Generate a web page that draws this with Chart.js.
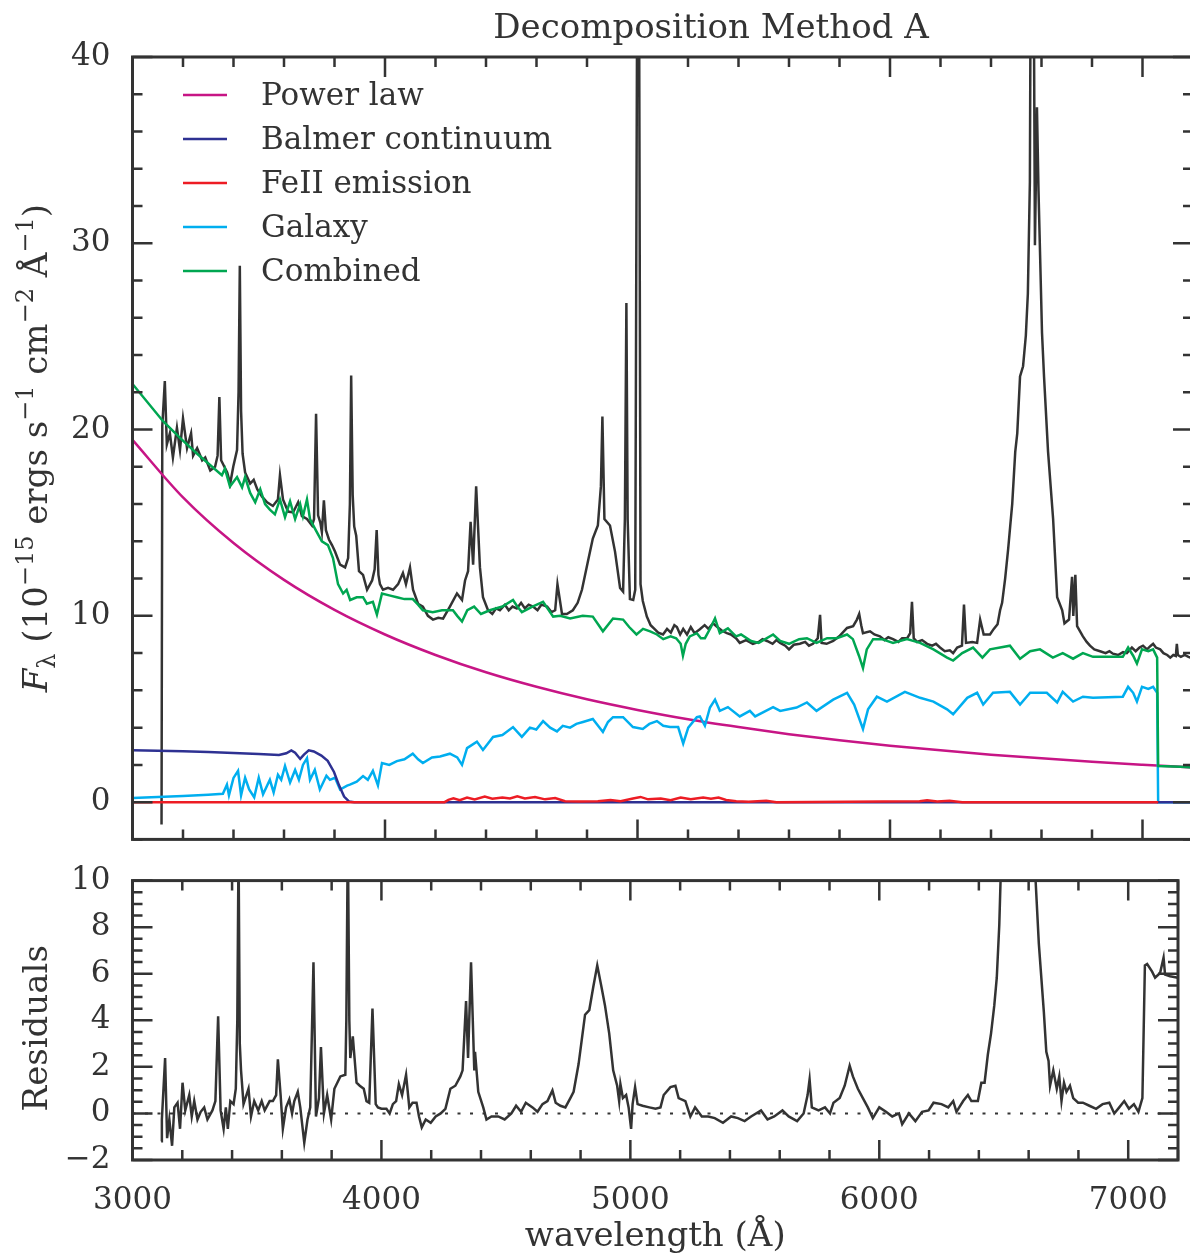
<!DOCTYPE html>
<html>
<head>
<meta charset="utf-8">
<script src="https://cdn.jsdelivr.net/npm/chart.js@4.4.1/dist/chart.umd.min.js"></script>
<style>
  html, body { margin: 0; padding: 0; background: #fff; }
  #wrap { position: relative; width: 1190px; height: 1258px; overflow: hidden; background: #fff; }
  #spec { position: absolute; left: 0; top: 0; }
  #resid { position: absolute; left: 0; top: 840px; }
</style>
</head>
<body>
<div id="wrap">
  <canvas id="spec" width="1200" height="880"></canvas>
  <canvas id="resid" width="1200" height="418"></canvas>
</div>
<script>
// ---- Spectrum and decomposition components: [wavelength (Å), flux (1e-15 erg/s/cm2/Å)] ----
const observed = [
  [3115,-1.2],[3118,20.2],[3128,22.6],[3136,19.2],[3148,19.8],[3160,18.5],[3176,20.1],[3188,18.9],
  [3200,20.6],[3216,19.0],[3232,19.8],[3240,18.6],[3256,19.0],[3276,18.35],[3288,18.5],[3308,17.8],
  [3327,18.0],[3337,18.6],[3344,21.75],[3351,18.35],[3375,17.7],[3387,17.1],[3399,18.0],[3414,18.9],
  [3420,22.0],[3425,28.8],[3430,21.0],[3436,18.7],[3446,17.7],[3466,17.1],[3480,17.3],[3494,16.8],
  [3513,16.4],[3533,16.1],[3556,15.9],[3576,16.25],[3584,17.55],[3596,16.25],[3616,15.6],[3636,15.55],
  [3656,16.1],[3671,15.35],[3691,15.2],[3711,14.85],[3719,15.2],[3727,20.85],[3735,15.4],[3744,15.0],
  [3750,14.5],[3758,16.2],[3766,14.6],[3778,14.1],[3790,13.8],[3802,13.45],[3822,12.75],[3842,12.6],
  [3854,13.1],[3861,16.0],[3866,22.9],[3872,16.5],[3878,14.8],[3886,14.3],[3897,12.4],[3913,12.2],
  [3929,11.4],[3949,11.9],[3959,12.5],[3967,14.6],[3974,12.2],[3980,11.7],[3992,11.4],[4012,11.5],
  [4032,11.4],[4052,11.7],[4071,12.3],[4083,11.7],[4099,12.6],[4111,11.4],[4131,10.65],[4150,10.5],
  [4170,10.0],[4190,9.8],[4211,9.9],[4230,9.85],[4257,10.5],[4285,11.2],[4305,10.85],[4317,11.9],
  [4329,12.4],[4339,15.05],[4349,12.75],[4361,16.95],[4376,12.6],[4388,11.0],[4408,10.3],[4425,10.1],
  [4440,10.4],[4455,10.3],[4475,10.6],[4490,10.3],[4505,10.5],[4522,10.4],[4539,10.7],[4554,10.4],
  [4569,10.6],[4586,10.5],[4604,10.3],[4619,10.6],[4642,10.5],[4659,10.2],[4674,10.3],[4683,11.7],
  [4701,10.1],[4720,10.1],[4744,10.3],[4763,10.7],[4780,11.4],[4804,12.95],[4823,14.15],[4843,14.85],
  [4855,16.95],[4861,20.7],[4869,15.2],[4891,14.85],[4911,13.45],[4931,11.5],[4943,11.3],[4950,15.2],
  [4956,26.8],[4961,15.2],[4970,10.9],[4983,10.85],[4991,11.4],[4999,45],[5006,45],[5012,11.7],
  [5021,10.8],[5037,9.96],[5052,9.5],[5067,9.3],[5082,9.1],[5101,9.0],[5117,9.3],[5132,9.1],
  [5146,9.5],[5156,9.4],[5169,9.0],[5181,9.3],[5196,9.0],[5211,9.4],[5226,9.07],[5247,9.28],
  [5266,9.5],[5281,9.3],[5299,9.6],[5316,9.4],[5335,9.2],[5354,9.07],[5370,9.0],[5390,8.8],
  [5405,8.55],[5430,8.7],[5457,8.5],[5480,8.6],[5495,8.75],[5513,8.65],[5535,8.5],[5550,8.7],
  [5565,8.55],[5585,8.4],[5600,8.2],[5619,8.45],[5643,8.5],[5664,8.6],[5679,8.4],[5695,8.5],
  [5714,8.8],[5723,10.05],[5729,8.55],[5749,8.5],[5775,8.65],[5799,8.9],[5830,9.35],[5854,9.45],
  [5869,9.8],[5878,10.1],[5886,9.5],[5893,9.07],[5921,9.17],[5938,9.0],[5960,8.9],[5978,8.7],
  [5993,8.85],[6012,8.75],[6033,8.6],[6048,8.8],[6068,8.8],[6080,9.07],[6087,10.75],[6094,8.8],
  [6107,8.6],[6127,8.7],[6147,8.5],[6167,8.4],[6182,8.5],[6198,8.3],[6217,8.1],[6237,8.15],
  [6250,8.0],[6266,8.3],[6285,8.4],[6293,10.6],[6301,8.55],[6326,8.6],[6345,8.55],[6357,9.8],
  [6371,9.0],[6396,9.0],[6411,9.3],[6426,9.55],[6436,10.3],[6444,10.7],[6456,12.0],[6468,13.6],
  [6476,14.8],[6484,16.0],[6496,18.8],[6504,19.8],[6515,22.85],[6527,23.4],[6538,25.05],[6546,27.3],
  [6554,33.3],[6558,48],[6568,48],[6574,29.9],[6582,37.3],[6588,32.9],[6602,25.2],[6610,22.85],
  [6626,18.8],[6646,15.2],[6662,11.0],[6682,10.3],[6691,9.6],[6709,9.8],[6721,12.1],[6726,10.0],
  [6734,12.2],[6741,9.45],[6764,8.9],[6779,8.6],[6792,8.4],[6809,8.2],[6832,8.1],[6854,8.0],
  [6869,8.1],[6883,7.97],[6903,7.9],[6923,8.05],[6938,8.0],[6958,8.3],[6973,8.1],[6988,8.3],
  [7002,8.4],[7018,8.2],[7033,8.4],[7042,8.5],[7053,8.3],[7070,8.2],[7083,8.0],[7098,7.9],
  [7110,7.76],[7122,7.9],[7132,7.85],[7136,8.5],[7140,7.9],[7152,7.8],[7167,7.9],[7182,7.8],[7200,7.7]
];

const powerLaw = [
  [3000,19.45],[3200,16.36],[3400,13.91],[3600,11.93],[3800,10.32],[4000,9.00],[4200,7.90],
  [4400,6.97],[4600,6.19],[4800,5.52],[5000,4.95],[5200,4.45],[5400,4.03],[5600,3.65],
  [5800,3.32],[6000,3.03],[6200,2.78],[6400,2.55],[6600,2.35],[6800,2.17],[7000,2.01],[7200,1.86]
];

const balmer = [
  [3000,2.78],[3100,2.76],[3200,2.73],[3300,2.69],[3400,2.64],[3500,2.58],[3580,2.53],[3609,2.62],
  [3629,2.78],[3644,2.65],[3664,2.32],[3679,2.55],[3698,2.78],[3718,2.72],[3748,2.5],[3773,2.22],
  [3798,1.62],[3818,0.9],[3838,0.3],[3858,0.03],[3878,0],[7200,0]
];

const feII = [
  [3000,0],[4236,0],[4251,0.12],[4271,0.2],[4296,0.1],[4325,0.25],[4355,0.15],[4395,0.3],
  [4425,0.18],[4465,0.25],[4495,0.2],[4524,0.32],[4554,0.2],[4594,0.28],[4634,0.15],[4674,0.22],
  [4713,0.05],[4773,0.03],[4843,0.05],[4893,0.12],[4933,0.05],[4982,0.2],[5012,0.28],[5042,0.15],
  [5092,0.2],[5131,0.1],[5171,0.25],[5211,0.15],[5260,0.25],[5291,0.18],[5321,0.25],[5351,0.12],
  [5391,0.05],[5440,0.02],[5510,0.08],[5550,0],[6117,0.05],[6147,0.1],[6187,0.03],[6236,0.08],
  [6286,0],[7062,0]
];

const galaxy = [
  [3000,0.22],[3100,0.28],[3200,0.33],[3300,0.4],[3358,0.45],[3374,0.94],[3382,0.37],[3400,1.3],
  [3418,1.68],[3430,0.37],[3446,1.31],[3462,0.68],[3482,0.26],[3500,1.31],[3517,0.42],[3544,1.2],
  [3559,0.52],[3576,1.47],[3589,1.2],[3604,1.94],[3624,1.05],[3644,1.73],[3659,1.2],[3675,2.0],
  [3691,2.36],[3703,1.2],[3722,1.73],[3742,0.68],[3768,1.42],[3782,1.2],[3802,1.31],[3822,0.68],
  [3850,0.89],[3861,0.94],[3888,1.1],[3913,1.4],[3932,1.2],[3952,1.68],[3972,0.9],[3988,2.1],
  [4017,2.0],[4047,2.2],[4077,2.3],[4110,2.6],[4131,2.3],[4150,2.1],[4186,2.4],[4218,2.45],
  [4257,2.6],[4286,2.4],[4305,2.0],[4325,2.9],[4364,3.25],[4388,2.8],[4428,3.5],[4465,3.6],
  [4507,4.03],[4542,3.5],[4574,4.0],[4599,3.9],[4626,4.35],[4654,4.0],[4681,3.8],[4704,4.1],
  [4733,4.0],[4758,4.2],[4784,4.3],[4823,4.46],[4863,3.77],[4883,4.3],[4903,4.56],[4943,4.56],
  [4982,4.03],[5021,3.93],[5047,4.2],[5077,4.35],[5102,4.1],[5129,4.03],[5161,4.03],[5181,3.15],
  [5201,4.0],[5235,4.56],[5247,4.6],[5267,4.1],[5287,5.08],[5307,5.5],[5326,4.9],[5358,5.1],
  [5405,4.6],[5445,4.9],[5466,4.6],[5537,5.1],[5565,4.9],[5630,5.08],[5671,5.35],[5709,4.9],
  [5775,5.5],[5830,5.87],[5858,5.24],[5893,3.93],[5913,4.98],[5948,5.66],[5988,5.4],[6059,5.92],
  [6119,5.6],[6172,5.4],[6226,4.98],[6250,4.72],[6306,5.6],[6345,5.87],[6369,5.24],[6408,5.87],
  [6475,5.92],[6515,5.24],[6555,5.87],[6621,5.87],[6662,5.35],[6684,5.92],[6725,5.4],[6764,5.66],
  [6804,5.6],[6922,5.66],[6943,6.19],[6963,5.87],[6978,5.4],[6998,6.19],[7023,6.08],[7042,6.19],
  [7058,5.87],[7062,0],[7200,0]
];

const combined = [
  [3000,22.45],[3121,20.45],[3188,19.55],[3256,18.7],[3354,17.55],[3366,17.9],[3386,16.95],[3414,17.45],
  [3434,16.9],[3446,17.45],[3466,16.6],[3486,16.1],[3506,16.8],[3525,16.0],[3544,15.7],[3564,15.45],
  [3584,16.25],[3604,15.3],[3624,16.15],[3644,15.2],[3664,16.0],[3675,15.35],[3691,16.25],[3703,15.2],
  [3722,14.7],[3750,14.0],[3774,13.8],[3794,13.1],[3814,11.7],[3834,11.2],[3848,11.4],[3862,10.85],
  [3888,11.0],[3913,11.0],[3928,10.65],[3952,10.75],[3968,10.07],[3988,11.2],[4017,11.1],[4047,11.0],
  [4077,10.9],[4110,10.9],[4131,10.6],[4150,10.3],[4189,10.2],[4226,10.3],[4269,10.3],[4286,10.0],
  [4305,9.7],[4326,10.3],[4353,10.5],[4380,10.1],[4415,10.3],[4465,10.5],[4507,10.85],[4524,10.5],
  [4542,10.2],[4584,10.5],[4626,10.75],[4666,9.96],[4694,10.0],[4733,9.86],[4783,10.0],[4823,9.96],
  [4863,9.17],[4903,9.86],[4943,9.8],[4967,9.4],[4996,9.0],[5022,9.3],[5050,9.17],[5077,9.0],
  [5102,8.75],[5131,8.9],[5153,8.8],[5171,8.5],[5180,7.86],[5191,8.5],[5207,8.9],[5235,9.07],
  [5251,8.8],[5267,8.8],[5291,9.4],[5307,9.86],[5326,9.07],[5358,9.33],[5390,8.9],[5410,9.0],
  [5450,8.65],[5480,8.55],[5537,9.0],[5565,8.65],[5600,8.5],[5640,8.75],[5671,8.8],[5709,8.55],
  [5751,8.8],[5789,8.8],[5830,9.0],[5853,8.75],[5877,7.86],[5893,7.2],[5908,8.2],[5933,8.75],
  [5968,8.75],[6012,8.55],[6067,8.75],[6119,8.55],[6172,8.2],[6226,7.76],[6250,7.6],[6286,8.0],
  [6329,8.3],[6366,7.76],[6396,8.2],[6436,8.3],[6475,8.4],[6515,7.7],[6555,8.1],[6594,8.2],
  [6645,7.76],[6684,8.0],[6725,7.7],[6764,8.0],[6804,7.8],[6922,7.8],[6943,8.3],[6963,7.86],
  [6978,7.44],[6998,8.2],[7023,8.1],[7042,8.2],[7058,7.76],[7062,1.94],[7150,1.9],[7200,1.86]
];

// ---- Residuals (observed minus combined model) ----
const residuals = [
  [3115,-1.19],[3118,-0.26],[3131,2.38],[3139,-1.06],[3148,-0.26],[3159,-1.39],[3168,0.26],[3181,0.46],
  [3191,-0.66],[3201,1.32],[3212,0.13],[3228,0.79],[3238,-0.13],[3248,0.53],[3261,-0.26],[3274,0.07],
  [3288,0.26],[3301,-0.26],[3321,0.13],[3333,0.53],[3344,4.17],[3354,0.13],[3366,-0.66],[3375,0.26],
  [3383,-0.66],[3393,0.53],[3406,0.4],[3415,1.06],[3421,4.0],[3426,11.5],[3431,3.0],[3436,1.85],
  [3446,0.4],[3466,1.06],[3476,-0.13],[3489,0.53],[3505,0.13],[3519,0.53],[3531,0.13],[3551,0.53],
  [3564,0.53],[3577,0.79],[3584,2.32],[3595,0.79],[3604,-0.66],[3617,0.26],[3630,0.6],[3641,0],
  [3650,0.53],[3664,0.93],[3674,0.26],[3690,-1.26],[3703,-0.26],[3714,0.26],[3727,6.49],[3737,-0.13],
  [3749,0.66],[3757,2.85],[3769,0],[3782,0.79],[3798,-0.26],[3811,1.06],[3835,1.59],[3855,1.66],
  [3859,4.0],[3865,12.0],[3871,4.0],[3875,2.38],[3885,3.31],[3892,2.38],[3900,1.32],[3913,1.19],
  [3929,1.06],[3940,0.53],[3951,0.46],[3964,4.5],[3977,0.4],[3986,0.26],[4000,0.2],[4020,0.2],
  [4033,0],[4046,0.4],[4059,0.53],[4070,1.26],[4083,0.79],[4099,1.66],[4112,0.26],[4125,0.46],
  [4141,0.46],[4151,-0.13],[4162,-0.6],[4178,-0.26],[4198,-0.4],[4218,-0.13],[4238,0],[4257,0.2],
  [4277,1.06],[4297,1.19],[4317,1.59],[4326,1.85],[4340,4.83],[4348,2.38],[4360,6.49],[4373,1.85],
  [4376,2.65],[4389,0.93],[4409,0.26],[4422,-0.26],[4442,-0.13],[4469,-0.13],[4495,-0.26],[4522,0],
  [4541,0.33],[4561,0.07],[4580,0.46],[4607,0.26],[4627,0.07],[4647,0.4],[4667,0.53],[4687,0.99],
  [4700,0.46],[4719,0.33],[4739,0.26],[4759,0.66],[4772,0.93],[4792,2.12],[4805,3.18],[4818,4.24],
  [4835,4.44],[4851,5.43],[4867,6.36],[4884,5.43],[4898,4.64],[4915,3.44],[4931,1.85],[4947,1.19],
  [4955,0.53],[4960,1.26],[4970,0.66],[4983,0.79],[4993,0.26],[5003,-0.66],[5009,0.4],[5019,1.13],
  [5029,0.4],[5049,0.33],[5076,0.26],[5101,0.2],[5121,0.26],[5134,0.79],[5161,1.13],[5181,1.19],
  [5194,0.66],[5221,0.53],[5241,-0.13],[5260,0.26],[5287,-0.13],[5313,-0.13],[5339,-0.2],[5372,-0.4],
  [5405,-0.13],[5432,-0.2],[5459,-0.33],[5485,-0.13],[5525,0.13],[5551,-0.26],[5578,-0.13],[5611,0.13],
  [5636,-0.13],[5670,-0.33],[5696,0],[5712,0.79],[5720,1.46],[5729,0.26],[5756,0.13],[5782,0.26],
  [5802,0],[5816,0.46],[5841,0.66],[5861,1.19],[5881,2.05],[5894,1.59],[5914,1.06],[5934,0.66],
  [5954,0.26],[5974,-0.2],[6000,0.26],[6027,0.07],[6052,-0.13],[6079,0],[6092,-0.46],[6119,0],
  [6145,-0.33],[6172,0.07],[6198,0.13],[6218,0.46],[6250,0.4],[6277,0.26],[6297,0.53],[6310,0.07],
  [6337,0.53],[6356,0.79],[6370,0.53],[6396,0.53],[6410,1.32],[6423,1.32],[6436,2.52],[6449,3.44],
  [6462,4.64],[6472,5.83],[6482,8.08],[6488,10.3],[6500,11.5],[6515,14.8],[6535,17.0],[6550,25.0],
  [6562,40.0],[6573,40.0],[6578,22.0],[6582,29.0],[6595,20.0],[6610,15.0],[6627,10.2],[6641,7.28],
  [6661,4.37],[6671,2.65],[6680,2.25],[6686,1.19],[6699,1.85],[6713,1.06],[6723,1.59],[6732,0.53],
  [6742,1.32],[6752,0.93],[6766,1.19],[6779,0.66],[6799,0.46],[6818,0.46],[6844,0.33],[6871,0.2],
  [6897,0.4],[6924,0.46],[6944,0],[6964,0.26],[6984,0.53],[7003,0.2],[7023,0.4],[7041,0.07],
  [7057,0.66],[7067,6.36],[7076,6.42],[7096,6.09],[7108,5.83],[7128,6.03],[7142,6.69],[7148,5.96],
  [7168,5.89],[7200,5.83]
];
const zeroLine = [[3000,0],[7200,0]];

// ---- Axis ticks ----
const waveMin = 3000, waveMax = 7200, waveStep = 200, waveLabelEvery = 1000;
const fluxMin = -2, fluxMax = 40, fluxStep = 2, fluxLabelEvery = 10;
const residMin = -2, residMax = 10, residStep = 0.5, residLabelEvery = 2;

const INK = '#333333';
const FAM = "'DejaVu Serif', serif";
const toXY = arr => arr.map(([x, y]) => ({ x, y }));
const fmt = v => (v < 0 ? '\u2212' + Math.abs(v) : String(v));

// Frame and inward-pointing tick marks on all four sides, taken from the scales' own ticks.
function framePlugin(majorX, majorY) {
  return {
    id: 'frameTicks',
    afterDatasetsDraw(chart) {
      const { ctx, chartArea: a, scales } = chart;
      const xs = scales.x, ys = scales.y;
      ctx.save();
      ctx.strokeStyle = INK;
      ctx.lineWidth = 2.5;
      ctx.beginPath();
      xs.ticks.forEach(t => {
        const px = xs.getPixelForValue(t.value);
        const len = majorX(t.value) ? 20 : 10;
        ctx.moveTo(px, a.top); ctx.lineTo(px, a.top + len);
        ctx.moveTo(px, a.bottom); ctx.lineTo(px, a.bottom - len);
      });
      ys.ticks.forEach(t => {
        const py = ys.getPixelForValue(t.value);
        const len = majorY(t.value) ? 20 : 10;
        ctx.moveTo(a.left, py); ctx.lineTo(a.left + len, py);
        ctx.moveTo(a.right, py); ctx.lineTo(a.right - len, py);
      });
      ctx.stroke();
      ctx.lineWidth = 3;
      ctx.strokeRect(a.left, a.top, a.right - a.left, a.bottom - a.top);
      ctx.restore();
    }
  };
}

// Rotated y-axis title built from runs of normal, subscript and superscript text.
function drawRotated(ctx, runs, cx, cy) {
  let total = 0;
  runs.forEach(r => {
    ctx.font = `${r.italic ? 'italic ' : ''}${r.size}px ${FAM}`;
    r.w = ctx.measureText(r.t).width;
    total += r.w;
  });
  ctx.save();
  ctx.translate(cx, cy);
  ctx.rotate(-Math.PI / 2);
  ctx.fillStyle = INK;
  ctx.textBaseline = 'alphabetic';
  ctx.textAlign = 'left';
  let x = -total / 2;
  runs.forEach(r => {
    ctx.font = `${r.italic ? 'italic ' : ''}${r.size}px ${FAM}`;
    ctx.fillText(r.t, x, 12 + (r.dy || 0));
    x += r.w;
  });
  ctx.restore();
}

const specTitle = 'Decomposition Method A';
const fluxTitleRuns = [
  { t: 'F', size: 34, italic: true }, { t: '\u03bb', size: 24, dy: 8 },
  { t: ' (10', size: 34 }, { t: '\u221215', size: 24, dy: -14 },
  { t: ' ergs s', size: 34 }, { t: '\u22121', size: 24, dy: -14 },
  { t: ' cm', size: 34 }, { t: '\u22122', size: 24, dy: -14 },
  { t: ' \u00c5', size: 34 }, { t: '\u22121', size: 24, dy: -14 },
  { t: ')', size: 34 }
];

const specDecor = {
  id: 'specDecor',
  afterDraw(chart) {
    const { ctx, chartArea: a } = chart;
    ctx.save();
    ctx.fillStyle = INK;
    ctx.font = `34px ${FAM}`;
    ctx.textAlign = 'center';
    ctx.textBaseline = 'middle';
    ctx.fillText(specTitle, 711, 29);
    // key
    const keyed = chart.data.datasets.filter(d => d.inKey);
    keyed.forEach((d, i) => {
      const y = 95 + i * 44;
      ctx.strokeStyle = d.borderColor;
      ctx.lineWidth = 2.5;
      ctx.beginPath(); ctx.moveTo(183, y); ctx.lineTo(227, y); ctx.stroke();
      ctx.font = `31px ${FAM}`;
      ctx.textAlign = 'left';
      ctx.fillStyle = INK;
      ctx.fillText(d.label, 261, y + 2);
    });
    ctx.restore();
    drawRotated(ctx, fluxTitleRuns, 35, (a.top + a.bottom) / 2);
  }
};

const residDecor = {
  id: 'residDecor',
  afterDraw(chart) {
    const { ctx, chartArea: a } = chart;
    drawRotated(ctx, [{ t: 'Residuals', size: 34 }], 35, (a.top + a.bottom) / 2 + 8);
  }
};

const line = (label, data, color, order, extra) => Object.assign({
  label, data: toXY(data), borderColor: color, backgroundColor: color,
  borderWidth: 2.5, pointRadius: 0, tension: 0, fill: false, order
}, extra || {});

const tickFont = { family: FAM, size: 31 };

new Chart(document.getElementById('spec'), {
  type: 'line',
  data: {
    datasets: [
      line('Observed', observed, INK, 6),
      line('Power law', powerLaw, '#c71585', 5, { inKey: true, tension: 0.4, cubicInterpolationMode: 'monotone' }),
      line('Balmer continuum', balmer, '#2e3192', 3, { inKey: true }),
      line('FeII emission', feII, '#ed1c24', 2, { inKey: true }),
      line('Galaxy', galaxy, '#00aeef', 4, { inKey: true }),
      line('Combined', combined, '#00a651', 1, { inKey: true })
    ]
  },
  options: {
    responsive: false, animation: false, events: [],
    layout: { padding: { top: 57, right: 7, bottom: 22, left: 0 } },
    plugins: { legend: { display: false }, tooltip: { enabled: false }, title: { display: false } },
    scales: {
      x: {
        type: 'linear', min: waveMin, max: waveMax,
        grid: { display: false, drawTicks: false }, border: { display: false },
        ticks: { stepSize: waveStep, display: false, autoSkip: false },
        afterFit: s => { s.height = 0; }
      },
      y: {
        type: 'linear', min: fluxMin, max: fluxMax,
        grid: { display: false, drawTicks: false }, border: { display: false },
        ticks: {
          stepSize: fluxStep, autoSkip: false, padding: 22, color: INK, font: tickFont,
          callback: v => (v % fluxLabelEvery === 0 && v >= 0 ? fmt(v) : '')
        },
        afterFit: s => { s.width = 132.5; }
      }
    }
  },
  plugins: [framePlugin(v => v % waveLabelEvery === 0, v => v % fluxLabelEvery === 0), specDecor]
});

new Chart(document.getElementById('resid'), {
  type: 'line',
  data: {
    datasets: [
      line('Residuals', residuals, INK, 1),
      line('Zero', zeroLine, INK, 2, { borderWidth: 2, borderDash: [3, 9.5] })
    ]
  },
  options: {
    responsive: false, animation: false, events: [],
    layout: { padding: { top: 18, right: 7, bottom: 0, left: 0 } },
    plugins: { legend: { display: false }, tooltip: { enabled: false } },
    scales: {
      x: {
        type: 'linear', min: waveMin, max: waveMax,
        grid: { display: false, drawTicks: false }, border: { display: false },
        ticks: {
          stepSize: waveStep, autoSkip: false, maxRotation: 0, padding: 22, color: INK, font: tickFont,
          callback: v => (v % waveLabelEvery === 0 ? String(v) : '')
        },
        title: { display: true, text: 'wavelength (\u00c5)', color: INK, font: { family: FAM, size: 34 }, padding: { top: 0, bottom: 0 } },
        afterFit: s => { s.height = 98; }
      },
      y: {
        type: 'linear', min: residMin, max: residMax,
        grid: { display: false, drawTicks: false }, border: { display: false },
        ticks: {
          stepSize: residStep, autoSkip: false, padding: 22, color: INK, font: tickFont,
          callback: v => (v % residLabelEvery === 0 ? fmt(v) : '')
        },
        afterFit: s => { s.width = 132.5; }
      }
    }
  },
  plugins: [framePlugin(v => v % waveLabelEvery === 0, v => v % residLabelEvery === 0), residDecor]
});
</script>
</body>
</html>
